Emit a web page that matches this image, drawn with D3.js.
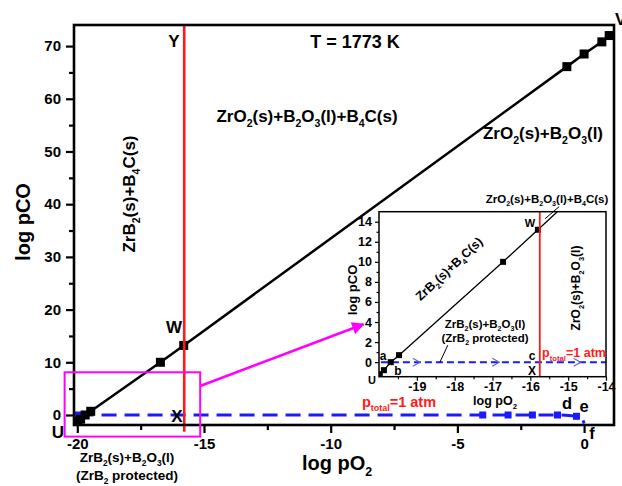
<!DOCTYPE html>
<html>
<head>
<meta charset="utf-8">
<script src="https://cdn.jsdelivr.net/npm/d3@7/dist/d3.min.js"></script>
<style>
  body { margin: 0; background: #fff; }
  svg { display: block; font-family: "Liberation Sans", Arial, sans-serif; font-weight: bold; }
</style>
</head>
<body>
<div id="chart"></div>
<script>
// CO/O2 boundary line (ZrB2+B4C | ZrO2+B2O3+B4C)
const linePO2 = [-19.98, -19.87, -19.69, -19.47, -16.72, -15.8, -0.68, 0, 0.7, 0.99];
const linePCO = [-1.2, -0.8, 0, 0.7, 10, 13.2, 66.1, 68.5, 70.8, 72.0];
// p_total = 1 atm path
const totalPO2 = [-19.95, -4.0, -3.0, -2.04, -1.05, -0.3, -0.06, 0];
const totalPCO = [0, 0, 0, 0, 0, -0.25, -0.9, -1.6];
const totalMarked = 6; // first n points carry a marker
// vertical boundary Y-X
const boundaryPO2 = -15.78;
const boundaryPCO = [-3.2, 74];

const mainXTicks = [-20, -15, -10, -5, 0];
const mainXMinor = [-17.5, -12.5, -7.5, -2.5];
const mainYTicks = [0, 10, 20, 30, 40, 50, 60, 70];
const mainYMinor = [5, 15, 25, 35, 45, 55, 65];
const insetXTicks = [-19, -18, -17, -16, -15, -14];
const insetXMinor = [-19.5, -18.5, -17.5, -16.5, -15.5, -14.5];
const insetYTicks = [0, 2, 4, 6, 8, 10, 12, 14];
const insetYMinor = [1, 3, 5, 7, 9, 11, 13];
const insetArrowPO2 = [-19.0, -16.9, -14.75];

const W = 622, H = 486;
const svg = d3.select('#chart').append('svg').attr('width', W).attr('height', H);

const x = d3.scaleLinear().domain([-20.13, 1.18]).range([74, 614]);
const y = d3.scaleLinear().domain([-1.9, 74]).range([425, 25]);
const ix = d3.scaleLinear().domain([-20, -14]).range([379, 606]);
const iy = d3.scaleLinear().domain([-1.45, 15]).range([376.7, 211.7]);

const BLUE = '#1a1aff', RED = '#ff1a1a', MAG = '#ff00ff';

function richText (parent, str, o) {
    const t = parent.append('text')
        .attr('x', o.x).attr('y', o.y)
        .attr('font-size', o.size)
        .attr('text-anchor', o.anchor || 'middle')
        .attr('fill', o.color || '#000');
    if (o.rotate) t.attr('transform', `rotate(${o.rotate}, ${o.x}, ${o.y})`);
    const shift = o.size * 0.3;
    let down = false;
    str.split(/(_\{[^}]*\})/).filter(s => s.length).forEach(p => {
        if (p.startsWith('_{')) {
            t.append('tspan').attr('font-size', o.size * 0.62).attr('dy', shift).text(p.slice(2, -1));
            down = true;
        } else {
            t.append('tspan').attr('dy', down ? -shift : 0).text(p);
            down = false;
        }
    });
    return t;
}

function axes (g, sx, sy, o) {
    const bottom = sy.range()[0], left = sx.range()[0];
    const fmt = d => String(d);
    const styleAxis = sel => {
        sel.select('.domain').remove();
        sel.selectAll('line').attr('stroke', '#000').attr('stroke-width', o.tickW);
        sel.selectAll('text').attr('fill', '#000').attr('font-size', o.font).attr('font-family', null);
    };
    g.append('g').attr('transform', `translate(0,${bottom})`)
        .call(d3.axisBottom(sx).tickValues(o.xt).tickSize(o.major).tickPadding(o.padX).tickFormat(fmt))
        .call(styleAxis);
    g.append('g').attr('transform', `translate(0,${bottom})`)
        .call(d3.axisBottom(sx).tickValues(o.xm).tickSize(o.minor).tickFormat(''))
        .call(styleAxis);
    g.append('g').attr('transform', `translate(${left},0)`)
        .call(d3.axisLeft(sy).tickValues(o.yt).tickSize(o.major).tickPadding(o.padY).tickFormat(fmt))
        .call(styleAxis);
    g.append('g').attr('transform', `translate(${left},0)`)
        .call(d3.axisLeft(sy).tickValues(o.ym).tickSize(o.minor).tickFormat(''))
        .call(styleAxis);
}

const linePts = linePO2.map((v, i) => [v, linePCO[i]]);
const totalPts = totalPO2.map((v, i) => [v, totalPCO[i]]);

// ---------- main panel ----------
const main = svg.append('g');
axes(main, x, y, { xt: mainXTicks, xm: mainXMinor, yt: mainYTicks, ym: mainYMinor, major: 8, minor: 5, padX: 5, padY: 5, tickW: 2.2, font: 15 });

main.append('path')
    .datum(linePts)
    .attr('fill', 'none').attr('stroke', '#000').attr('stroke-width', 2.5)
    .attr('d', d3.line().x(d => x(d[0])).y(d => y(d[1])));

main.append('path')
    .datum(totalPts)
    .attr('fill', 'none').attr('stroke', BLUE).attr('stroke-width', 3)
    .attr('stroke-dasharray', '15,8')
    .attr('d', d3.line().curve(d3.curveMonotoneX).x(d => x(d[0])).y(d => y(d[1])));

main.selectAll('rect.tot').data(totalPts.slice(0, totalMarked)).join('rect')
    .attr('x', d => x(d[0]) - 3.5).attr('y', d => y(d[1]) - 3.5)
    .attr('width', 7).attr('height', 7).attr('fill', BLUE);

main.selectAll('rect.pt').data(linePts).join('rect')
    .attr('x', d => x(d[0]) - 4.5).attr('y', d => y(d[1]) - 4.5)
    .attr('width', 9).attr('height', 9).attr('fill', '#000');

main.append('line')
    .attr('x1', x(boundaryPO2)).attr('x2', x(boundaryPO2))
    .attr('y1', y(boundaryPCO[0])).attr('y2', y(boundaryPCO[1]))
    .attr('stroke', RED).attr('stroke-width', 2.6);

main.append('rect')
    .attr('x', x.range()[0]).attr('y', y.range()[1])
    .attr('width', x.range()[1] - x.range()[0]).attr('height', y.range()[0] - y.range()[1])
    .attr('fill', 'none').attr('stroke', '#000').attr('stroke-width', 2.6);

// zoom box and arrow
main.append('rect')
    .attr('x', x(-20.5)).attr('y', y(8.1))
    .attr('width', x(-15.15) - x(-20.5)).attr('height', y(-4.1) - y(8.1))
    .attr('fill', 'none').attr('stroke', MAG).attr('stroke-width', 2);

svg.append('defs').append('marker')
    .attr('id', 'arr').attr('viewBox', '0 0 10 10').attr('refX', 9).attr('refY', 5)
    .attr('markerWidth', 6).attr('markerHeight', 5).attr('orient', 'auto').attr('markerUnits', 'strokeWidth')
    .append('path').attr('d', 'M0,0L10,5L0,10z').attr('fill', MAG);

main.append('line')
    .attr('x1', x(-15.15)).attr('y1', y(5.5))
    .attr('x2', ix(-20.41)).attr('y2', iy(3.78))
    .attr('stroke', MAG).attr('stroke-width', 2.5).attr('marker-end', 'url(#arr)');

// main texts
richText(main, 'T = 1773 K', { x: 355, y: 48, size: 18 });
richText(main, 'Y', { x: 174, y: 47, size: 17 });
richText(main, 'ZrO_{2}(s)+B_{2}O_{3}(l)+B_{4}C(s)', { x: 307, y: 122, size: 17 });
richText(main, 'ZrO_{2}(s)+B_{2}O_{3}(l)', { x: 543, y: 139, size: 17 });
richText(main, 'ZrB_{2}(s)+B_{4}C(s)', { x: 135, y: 194, size: 17, rotate: -90 });
richText(main, 'W', { x: 174, y: 333, size: 17 });
richText(main, 'X', { x: 177, y: 422, size: 17 });
richText(main, 'U', { x: 58, y: 438, size: 17 });
richText(main, 'ZrB_{2}(s)+B_{2}O_{3}(l)', { x: 127, y: 462, size: 13.5 });
richText(main, '(ZrB_{2} protected)', { x: 127, y: 480, size: 13.5 });
richText(main, 'p_{total}=1 atm', { x: 399, y: 407, size: 14.5, color: RED });
richText(main, 'd', { x: 567, y: 409, size: 16.5 });
richText(main, 'e', { x: 584, y: 412, size: 16.5 });
richText(main, 'f', { x: 592, y: 439, size: 16.5 });
richText(main, 'V', { x: 615, y: 25, size: 17, anchor: 'start' });
richText(main, 'log pCO', { x: 30, y: 222, size: 20, rotate: -90 });
richText(main, 'log pO_{2}', { x: 337, y: 470, size: 20 });

// ---------- inset ----------
const inset = svg.append('g');
inset.append('rect')
    .attr('x', ix.range()[0]).attr('y', iy.range()[1])
    .attr('width', ix.range()[1] - ix.range()[0]).attr('height', iy.range()[0] - iy.range()[1])
    .attr('fill', '#fff');

svg.append('clipPath').attr('id', 'iclip').append('rect')
    .attr('x', ix.range()[0]).attr('y', iy.range()[1])
    .attr('width', ix.range()[1] - ix.range()[0]).attr('height', iy.range()[0] - iy.range()[1]);

axes(inset, ix, iy, { xt: insetXTicks, xm: insetXMinor, yt: insetYTicks, ym: insetYMinor, major: 4, minor: 2.5, padX: 1.5, padY: 3, tickW: 1.2, font: 12.5 });

const ic = inset.append('g').attr('clip-path', 'url(#iclip)');

ic.append('path')
    .datum(totalPts)
    .attr('fill', 'none').attr('stroke', BLUE).attr('stroke-width', 2)
    .attr('stroke-dasharray', '7,4')
    .attr('d', d3.line().x(d => ix(d[0])).y(d => iy(d[1])));

ic.selectAll('path.chev').data(insetArrowPO2).join('path')
    .attr('d', d => `M${ix(d) - 4},${iy(0) - 4}L${ix(d) + 3},${iy(0)}L${ix(d) - 4},${iy(0) + 4}`)
    .attr('fill', 'none').attr('stroke', '#5a6acc').attr('stroke-width', 1.2);

ic.append('path')
    .datum(linePts)
    .attr('fill', 'none').attr('stroke', '#000').attr('stroke-width', 1.3)
    .attr('d', d3.line().x(d => ix(d[0])).y(d => iy(d[1])));

ic.selectAll('rect.ipt').data(linePts).join('rect')
    .attr('x', d => ix(d[0]) - 3).attr('y', d => iy(d[1]) - 3)
    .attr('width', 6).attr('height', 6).attr('fill', '#000');

ic.append('line')
    .attr('x1', ix(boundaryPO2 + 0.03)).attr('x2', ix(boundaryPO2 + 0.03))
    .attr('y1', iy.range()[0]).attr('y2', iy.range()[1])
    .attr('stroke', RED).attr('stroke-width', 1.8);

inset.append('rect')
    .attr('x', ix.range()[0]).attr('y', iy.range()[1])
    .attr('width', ix.range()[1] - ix.range()[0]).attr('height', iy.range()[0] - iy.range()[1])
    .attr('fill', 'none').attr('stroke', '#000').attr('stroke-width', 1.5);

// leader lines
inset.append('line')
    .attr('x1', ix(-18.18)).attr('y1', iy(1.7)).attr('x2', ix(-18.39)).attr('y2', iy(0))
    .attr('stroke', '#000').attr('stroke-width', 1);
inset.append('line')
    .attr('x1', ix(-15.61)).attr('y1', iy(14.3)).attr('x2', ix(-15.24)).attr('y2', iy(15.5))
    .attr('stroke', '#000').attr('stroke-width', 1);

// inset texts
richText(inset, 'log pCO', { x: 357, y: 290, size: 13, rotate: -90 });
richText(inset, 'log pO_{2}', { x: 495, y: 405, size: 12.5 });
richText(inset, 'ZrB_{2}(s)+B_{4}C(s)', { x: 452, y: 272, size: 12.5, rotate: -43 });
richText(inset, 'ZrB_{2}(s)+B_{2}O_{3}(l)', { x: 485, y: 328, size: 11.5 });
richText(inset, '(ZrB_{2} protected)', { x: 485, y: 342, size: 11.5 });
richText(inset, 'ZrO_{2}(s)+B_{2}O_{3}(l)', { x: 580, y: 288, size: 12, rotate: -90 });
richText(inset, 'p_{total}=1 atm', { x: 574, y: 357, size: 12.5, color: RED });
richText(inset, 'ZrO_{2}(s)+B_{2}O_{3}(l)+B_{4}C(s)', { x: 547, y: 203, size: 11.5 });
richText(inset, 'W', { x: 530, y: 227, size: 11 });
richText(inset, 'a', { x: 383, y: 360, size: 12 });
richText(inset, 'b', { x: 398, y: 375, size: 12 });
richText(inset, 'c', { x: 532, y: 360, size: 12 });
richText(inset, 'X', { x: 532, y: 375, size: 12 });
richText(inset, 'U', { x: 372, y: 384, size: 11 });
</script>
</body>
</html>
